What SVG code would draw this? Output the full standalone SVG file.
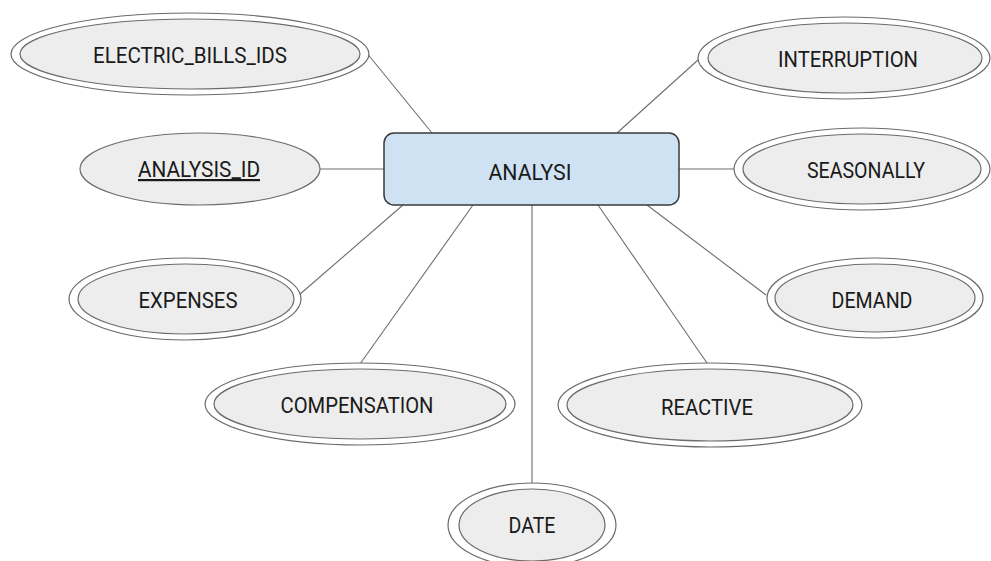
<svg xmlns="http://www.w3.org/2000/svg" width="991" height="561" viewBox="0 0 991 561">
  <style>
    .bg { fill: #ffffff; }
    .outer { fill: #ffffff; stroke: #6b6b6b; stroke-width: 1.2; }
    .inner { fill: #ededed; stroke: #6b6b6b; stroke-width: 1.2; }
    .single { fill: #ededed; stroke: #6b6b6b; stroke-width: 1.2; }
    .entity { fill: #cfe2f3; stroke: #3a3a3a; stroke-width: 1.5; }
    .link { stroke: #6e6e6e; stroke-width: 1.1; fill: none; }
    .label { font-family: Roboto, "Liberation Sans", sans-serif; font-size: 22px; fill: #1a1a1a; text-anchor: middle; }
  </style>

  <rect class="bg" x="0" y="0" width="991" height="561"/>

  <!-- relationships between the entity and its attributes -->
  <g id="connectors">
    <line class="link" x1="366" y1="52" x2="432" y2="133"/>
    <line class="link" x1="320" y1="169" x2="384" y2="169"/>
    <line class="link" x1="403" y1="205" x2="299" y2="295"/>
    <line class="link" x1="473" y1="205" x2="360" y2="364"/>
    <line class="link" x1="532" y1="205" x2="532" y2="483"/>
    <line class="link" x1="598" y1="205" x2="707" y2="363"/>
    <line class="link" x1="647" y1="205" x2="766" y2="295"/>
    <line class="link" x1="679" y1="169" x2="734" y2="169"/>
    <line class="link" x1="617" y1="133" x2="698" y2="60"/>
  </g>

  <g id="analysi">
    <rect class="entity" x="384" y="133" width="295" height="72" rx="10" ry="10"/>
    <text class="label" x="530" y="180" textLength="83" lengthAdjust="spacingAndGlyphs">ANALYSI</text>
  </g>

  <g id="electric_bills_ids">
    <ellipse class="outer" cx="190" cy="54" rx="179" ry="41"/>
    <ellipse class="inner" cx="190" cy="54" rx="170" ry="35"/>
    <text class="label" x="190" y="63" textLength="194" lengthAdjust="spacingAndGlyphs">ELECTRIC_BILLS_IDS</text>
  </g>

  <g id="analysis_id">
    <ellipse class="single" cx="200" cy="169" rx="120" ry="36"/>
    <text class="label" x="199" y="177" textLength="122" lengthAdjust="spacingAndGlyphs" text-decoration="underline">ANALYSIS_ID</text>
  </g>

  <g id="expenses">
    <ellipse class="outer" cx="185" cy="299" rx="116" ry="41"/>
    <ellipse class="inner" cx="186" cy="299" rx="108" ry="35"/>
    <text class="label" x="188" y="308" textLength="99" lengthAdjust="spacingAndGlyphs">EXPENSES</text>
  </g>

  <g id="compensation">
    <ellipse class="outer" cx="360" cy="404" rx="155" ry="41"/>
    <ellipse class="inner" cx="360" cy="404" rx="146" ry="35"/>
    <text class="label" x="357" y="413" textLength="153" lengthAdjust="spacingAndGlyphs">COMPENSATION</text>
  </g>

  <g id="date">
    <ellipse class="outer" cx="532" cy="525" rx="84" ry="42"/>
    <ellipse class="inner" cx="532" cy="525" rx="73" ry="36"/>
    <text class="label" x="532" y="533" textLength="47" lengthAdjust="spacingAndGlyphs">DATE</text>
  </g>

  <g id="reactive">
    <ellipse class="outer" cx="710" cy="405" rx="152" ry="42"/>
    <ellipse class="inner" cx="710" cy="405" rx="143" ry="36"/>
    <text class="label" x="707" y="415" textLength="92" lengthAdjust="spacingAndGlyphs">REACTIVE</text>
  </g>

  <g id="demand">
    <ellipse class="outer" cx="875" cy="298" rx="108" ry="40"/>
    <ellipse class="inner" cx="875" cy="298" rx="100" ry="34"/>
    <text class="label" x="872" y="308" textLength="81" lengthAdjust="spacingAndGlyphs">DEMAND</text>
  </g>

  <g id="seasonally">
    <ellipse class="outer" cx="862" cy="169" rx="128" ry="41"/>
    <ellipse class="inner" cx="862" cy="169" rx="119" ry="35"/>
    <text class="label" x="866" y="178" textLength="118" lengthAdjust="spacingAndGlyphs">SEASONALLY</text>
  </g>

  <g id="interruption">
    <ellipse class="outer" cx="844" cy="58" rx="146" ry="41"/>
    <ellipse class="inner" cx="845" cy="58" rx="137" ry="35"/>
    <text class="label" x="848" y="67" textLength="140" lengthAdjust="spacingAndGlyphs">INTERRUPTION</text>
  </g>
</svg>
